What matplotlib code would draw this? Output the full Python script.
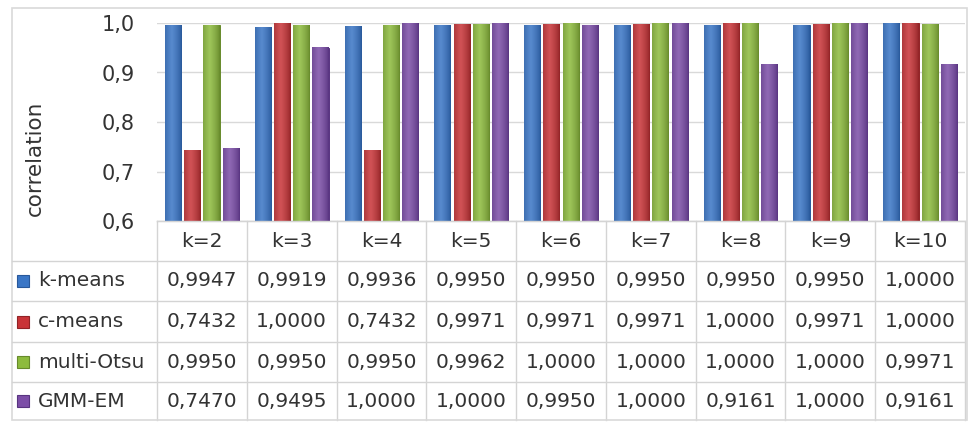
import numpy as np
import matplotlib.pyplot as plt
from matplotlib import transforms
from matplotlib.colors import to_rgb
from matplotlib.patches import Rectangle
from matplotlib.lines import Line2D

categories = ['k=2', 'k=3', 'k=4', 'k=5', 'k=6', 'k=7', 'k=8', 'k=9', 'k=10']
series_names = ['k-means', 'c-means', 'multi-Otsu', 'GMM-EM']
kmeans = [0.9947, 0.9919, 0.9936, 0.9950, 0.9950, 0.9950, 0.9950, 0.9950, 1.0000]
cmeans = [0.7432, 1.0000, 0.7432, 0.9971, 0.9971, 0.9971, 1.0000, 0.9971, 1.0000]
otsu = [0.9950, 0.9950, 0.9950, 0.9962, 1.0000, 1.0000, 1.0000, 1.0000, 0.9971]
gmm = [0.7470, 0.9495, 1.0000, 1.0000, 0.9950, 1.0000, 0.9161, 1.0000, 0.9161]
y_ticks = [0.6, 0.7, 0.8, 0.9, 1.0]

colors = ['#3a76c6', '#c93438', '#8dbb3d', '#7c4ea7']
edges = ['#28589a', '#912326', '#678a2b', '#583480']

plt.rcParams['font.family'] = ['DejaVu Sans']
W, H = 971, 423
fig = plt.figure(figsize=(W / 100, H / 100), dpi=100)

def fy(py):
    return 1 - py / H

def fx(px):
    return px / W

def shaded(ax, patch, base, dark):
    # cylinder-like horizontal shading over the visible part of the bar
    t = np.linspace(0, 1, 32)
    f = np.clip(1 - np.abs(t - 0.4) / 0.6, 0, 1) ** 0.7
    light = np.array(to_rgb(base)) * 0.85 + 0.15
    dk = np.array(to_rgb(dark))
    img = dk[None, :] * (1 - f[:, None]) + light[None, :] * f[:, None]
    x0 = patch.get_x()
    y0 = max(patch.get_y(), ax.get_ylim()[0])
    y1 = patch.get_y() + patch.get_height()
    ax.imshow(img[None, :, :], extent=(x0, x0 + patch.get_width(), y0, y1),
              aspect='auto', interpolation='bilinear', zorder=3.5)

# outer chart border
fig.patches.append(Rectangle((fx(12), fy(420)), fx(955), (420 - 8) / H,
                             transform=fig.transFigure, fill=False,
                             edgecolor='#d9d9d9', lw=1.2))

ax = fig.add_axes([fx(157), fy(221), fx(965 - 157), (221 - 23) / H])
ax.patch.set_alpha(0)
x = np.arange(len(categories))
width = 0.18
step = 0.214
all_series = [kmeans, cmeans, otsu, gmm]
ax.set_xlim(-0.5, len(categories) - 0.5)
ax.set_ylim(0.6, 1.0)
for i, vals in enumerate(all_series):
    bars = ax.bar(x + (i - 1.5) * step, vals, width, color=colors[i],
                  edgecolor=edges[i], linewidth=0.7, zorder=3)
    for b in bars:
        shaded(ax, b, colors[i], edges[i])

ax.set_xlim(-0.5, len(categories) - 0.5)
ax.set_ylim(0.6, 1.0)
ax.set_yticks(y_ticks)
ax.set_yticklabels([f'{t:.1f}'.replace('.', ',') for t in y_ticks],
                   fontsize=15, color='#333333')
ax.tick_params(axis='y', length=0, pad=16)
ax.set_xticks([])
ax.yaxis.grid(True, color='#d9d9d9', lw=1, zorder=0)
for s in ['left', 'right', 'top']:
    ax.spines[s].set_visible(False)
ax.spines['bottom'].set_color('#bfbfbf')
fig.text(fx(35), fy(158), 'correlation', rotation=90, ha='center', va='center',
         fontsize=15.5, color='#333333')

# data table below the plot
tr = transforms.blended_transform_factory(ax.transData, fig.transFigure)
line_c = '#d4d4d4'
rows_y = [221, 261, 301, 342, 382, 420]
fig.add_artist(Line2D([fx(157), fx(965)], [fy(221), fy(221)], color=line_c, lw=1))
for py in rows_y[1:-1]:
    fig.add_artist(Line2D([fx(12), fx(965)], [fy(py), fy(py)], color=line_c, lw=1))
for j in range(len(categories) + 1):
    xs = j - 0.5
    ax.add_line(Line2D([xs, xs], [fy(221), fy(420)], transform=tr, color=line_c,
                       lw=1, clip_on=False))

txt_c = '#333333'
fs = 14.5
for j, c in enumerate(categories):
    ax.text(j, fy(241), c, transform=tr, ha='center', va='center',
            fontsize=fs, color=txt_c)

for i, (name, vals) in enumerate(zip(series_names, all_series)):
    cy = (rows_y[i + 1] + rows_y[i + 2]) / 2
    fig.patches.append(Rectangle((fx(17), fy(cy + 6)), fx(12), 12 / H,
                                 transform=fig.transFigure, facecolor=colors[i],
                                 edgecolor=edges[i], lw=0.8))
    fig.text(fx(38), fy(cy), name, ha='left', va='center', fontsize=fs, color=txt_c)
    for j, v in enumerate(vals):
        ax.text(j, fy(cy), f'{v:.4f}'.replace('.', ','), transform=tr,
                ha='center', va='center', fontsize=fs, color=txt_c)

fig.savefig('out.png', dpi=100)
